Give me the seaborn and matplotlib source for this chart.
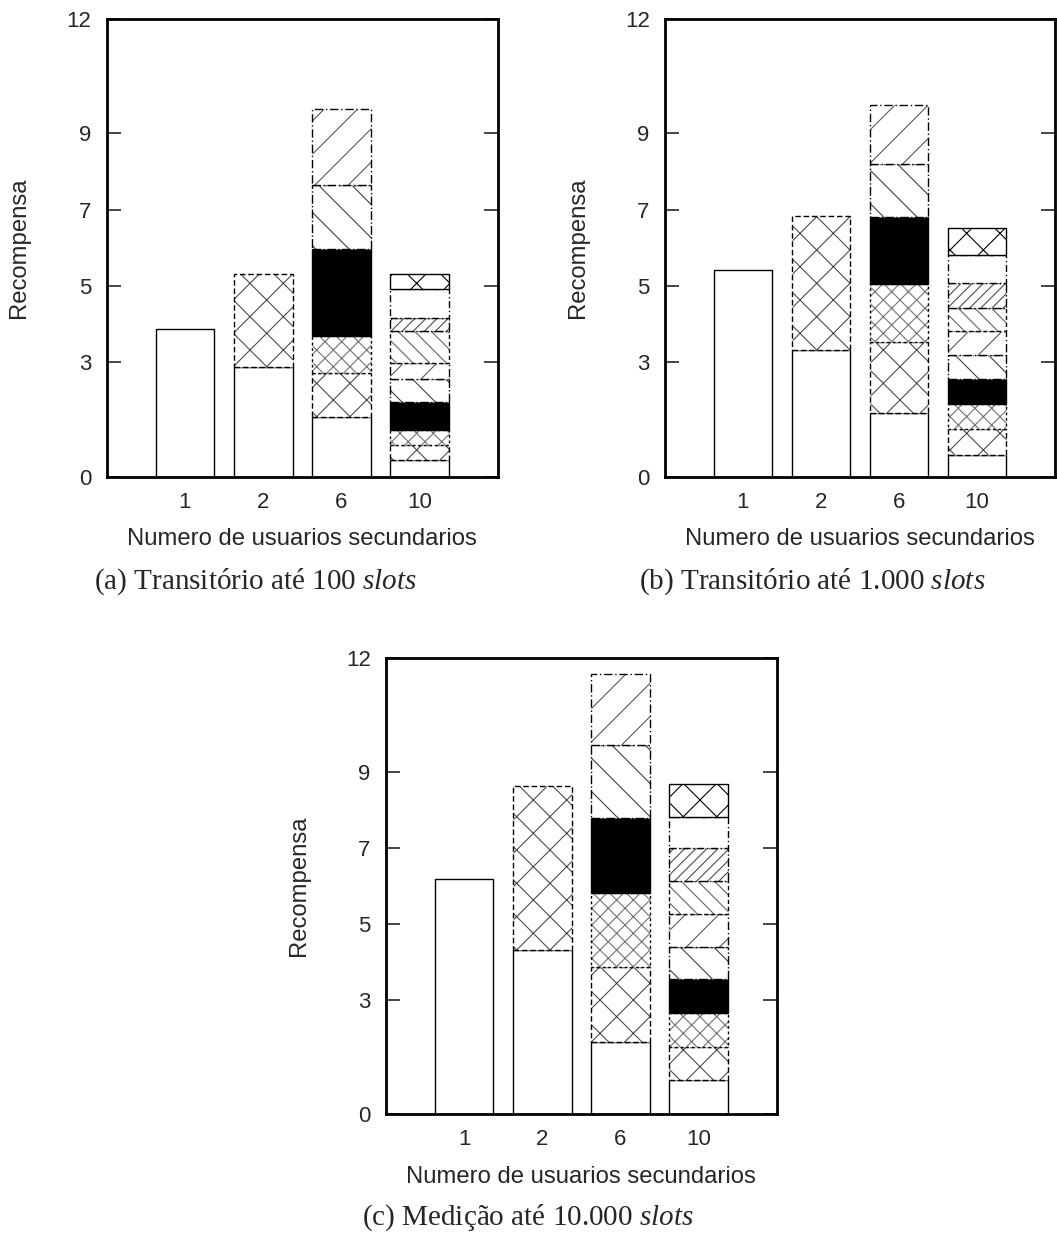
import numpy as np
import pandas as pd
import matplotlib
matplotlib.use("Agg")
import matplotlib.pyplot as plt
import seaborn as sns

# ---------------- data (reward of each secondary user, stacked) ----------------
categories = ["1", "2", "6", "10"]
yticks = [0, 3, 5, 7, 9, 12]

# (a) transient up to 100 slots
a_1 = [3.87]
a_2 = [2.87, 2.45]
a_6 = [1.56, 1.17, 0.95, 2.30, 1.68, 1.98]
a_10 = [0.43, 0.40, 0.39, 0.74, 0.61, 0.40, 0.85, 0.35, 0.75, 0.39]

# (b) transient up to 1.000 slots
b_1 = [5.41]
b_2 = [3.31, 3.52]
b_6 = [1.67, 1.85, 1.54, 1.75, 1.40, 1.53]
b_10 = [0.58, 0.66, 0.66, 0.65, 0.65, 0.61, 0.60, 0.67, 0.72, 0.73]

# (c) measurement up to 10.000 slots
c_1 = [6.17]
c_2 = [4.32, 4.29]
c_6 = [1.89, 1.97, 1.96, 1.96, 1.91, 1.88]
c_10 = [0.90, 0.87, 0.88, 0.90, 0.85, 0.86, 0.87, 0.86, 0.83, 0.85]

captions = ["(a) Transitório até 100 ", "(b) Transitório até 1.000 ",
            "(c) Medição até 10.000 "]
caption_it = "slots"
ylabel = "Recompensa"
xlabel = "Numero de usuarios secundarios"

panels = [[a_1, a_2, a_6, a_10], [b_1, b_2, b_6, b_10], [c_1, c_2, c_6, c_10]]

# ---------------- styles per stacked segment (user index) ----------------
seg_face = ["white", "white", "white", "black", "white", "white", "white", "white", "white", "white"]
seg_hatch = [None, "x", "xx", None, "\\", "/", "\\\\", "///", None, "x"]
seg_hcol = ["black", "0.3", "0.45", "black", "0.25", "0.35", "0.4", "0.3", "black", "black"]
seg_ls = ["-", (0, (4, 2)), (0, (2, 2)), "-", "-.", (0, (6, 2, 1, 2)), (0, (3, 2)), "-.", (0, (5, 2, 1, 2)), "-"]

sns.set_style("white")
plt.rcParams["font.family"] = ["Liberation Sans", "DejaVu Sans"]
plt.rcParams["hatch.linewidth"] = 0.8
plt.rcParams["mathtext.fontset"] = "custom"
plt.rcParams["mathtext.it"] = "Liberation Serif:italic"
plt.rcParams["mathtext.rm"] = "Liberation Serif"

fig = plt.figure(figsize=(10.57, 12.36), dpi=100)
W, H = 1057, 1236
boxes = [(106.7, 19, 498, 476.7), (665, 19, 1055, 476.7), (386, 657.5, 776.7, 1114)]
cap_pos = [(256, 582), (812, 582), (528, 1218)]

for p, (segs_by_cat, box) in enumerate(zip(panels, boxes)):
    l, t, r, b = box
    ax = fig.add_axes([l / W, 1 - b / H, (r - l) / W, (b - t) / H])
    rows = []
    for cat, segs in zip(categories, segs_by_cat):
        cum = np.concatenate([[0], np.cumsum(segs)[:-1]])
        for i, (v, bt) in enumerate(zip(segs, cum)):
            rows.append({"cat": cat, "seg": i, "value": v, "bottom": bt})
    df = pd.DataFrame(rows)
    df["cat"] = pd.Categorical(df["cat"], categories=categories, ordered=True)
    for i in range(10):
        sub = df[df["seg"] == i].sort_values("cat")
        if sub.empty:
            continue
        n_before = len(ax.patches)
        sns.barplot(data=sub, x="cat", y="value", order=categories, ax=ax,
                    bottom=sub["bottom"].to_numpy(), color=seg_face[i], saturation=1,
                    width=0.75, errorbar=None, edgecolor="black",
                    linewidth=1.0, linestyle=seg_ls[i], hatch=seg_hatch[i])
        for patch in ax.patches[n_before:]:
            patch._hatch_color = matplotlib.colors.to_rgba(seg_hcol[i])
    ax.set_xlim(-1, 4)
    ax.set_ylim(0, 12)
    ax.set_yticks(yticks)
    ax.tick_params(axis="y", direction="in", length=10, width=1.2, left=True,
                   right=True, labelsize=16, pad=11)
    ax.tick_params(axis="x", length=0, labelsize=16, pad=11)
    for s in ax.spines.values():
        s.set_linewidth(2)
        s.set_color("black")
    ax.set_xlabel(xlabel, fontsize=17.2, labelpad=11)
    ax.set_ylabel(ylabel, fontsize=17.2, labelpad=26)
    cx, cy = cap_pos[p]
    fig.text(cx / W, 1 - cy / H, captions[p] + r"$\mathit{" + caption_it + "}$",
             ha="center", va="center", fontsize=21, family="Liberation Serif")

fig.savefig("out.png", dpi=100)
